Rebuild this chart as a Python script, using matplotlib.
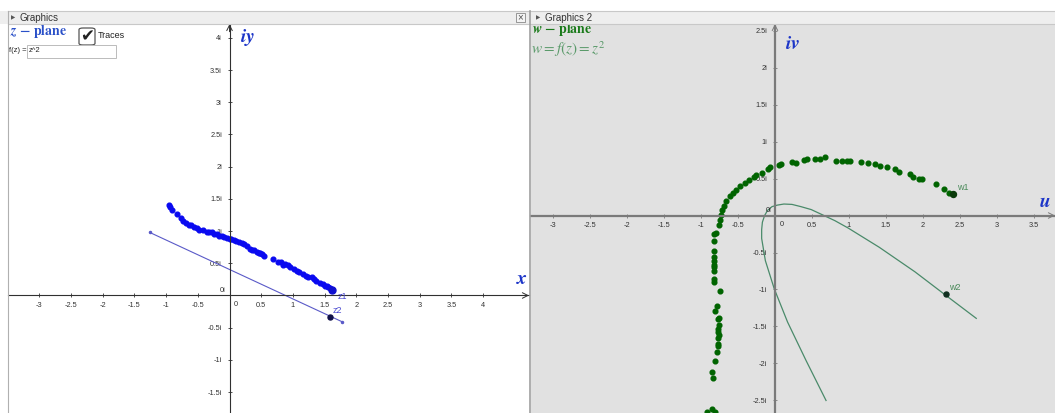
import matplotlib
matplotlib.use("Agg")
import matplotlib.pyplot as plt
from matplotlib.patches import Rectangle, FancyBboxPatch

W, H = 1055, 413
plt.rcParams['mathtext.fontset'] = 'stix'
plt.rcParams['font.family'] = ['Liberation Sans', 'DejaVu Sans']

# ---- data ----
# z-plane trace of z1 (blue dots)
z_trace_x = [-0.95, -0.94, -0.90, -0.83, -0.77, -0.73, -0.68, -0.64, -0.61, -0.56, -0.52,
             -0.48, -0.42, -0.36, -0.32, -0.28, -0.24, -0.20, -0.16, -0.12, -0.08, -0.04,
             0.00, 0.03, 0.07, 0.11, 0.15, 0.19, 0.23, 0.28, 0.32, 0.36, 0.38, 0.43, 0.46,
             0.48, 0.51, 0.54, 0.68, 0.77, 0.82, 0.85, 0.88, 0.93, 0.95, 1.01, 1.06, 1.10,
             1.16, 1.20, 1.24, 1.30, 1.33, 1.37, 1.43, 1.47, 1.51, 1.53, 1.56, 1.59]
z_trace_y = [1.40, 1.37, 1.33, 1.27, 1.21, 1.16, 1.12, 1.10, 1.09, 1.07, 1.05,
             1.01, 1.02, 0.99, 0.99, 0.98, 0.96, 0.95, 0.93, 0.92, 0.91, 0.90,
             0.88, 0.87, 0.86, 0.85, 0.83, 0.82, 0.80, 0.77, 0.72, 0.71, 0.70, 0.67, 0.66,
             0.66, 0.64, 0.62, 0.57, 0.52, 0.52, 0.47, 0.49, 0.47, 0.44, 0.41, 0.38, 0.36,
             0.33, 0.31, 0.29, 0.28, 0.25, 0.23, 0.20, 0.18, 0.15, 0.15, 0.13, 0.11]
z1 = (1.62, 0.09)
z2 = (1.58, -0.33)
seg_x = [-1.26, 1.78]
seg_y = [0.98, -0.41]

# w-plane trace of w1 (green dots)
w_trace_u = [2.35, 2.29, 2.17, 1.99, 1.94, 1.87, 1.82, 1.68, 1.62, 1.51, 1.42, 1.35, 1.26,
             1.16, 1.02, 0.97, 0.90, 0.83, 0.68, 0.61, 0.54, 0.43, 0.39, 0.28, 0.23, 0.08,
             0.05, -0.07, -0.10, -0.17, -0.25, -0.29, -0.35, -0.41, -0.47, -0.53, -0.57,
             -0.61, -0.66, -0.69, -0.72, -0.73, -0.74, -0.76, -0.80, -0.82, -0.82, -0.83,
             -0.82, -0.83, -0.82, -0.82, -0.83, -0.82, -0.82, -0.74, -0.79, -0.81, -0.76,
             -0.77, -0.75, -0.77, -0.77, -0.76, -0.77, -0.77, -0.77, -0.79, -0.81, -0.85,
             -0.84, -0.85, -0.92, -0.81]
w_trace_v = [0.31, 0.36, 0.42, 0.50, 0.50, 0.52, 0.56, 0.59, 0.63, 0.66, 0.67, 0.70, 0.71,
             0.72, 0.73, 0.74, 0.74, 0.74, 0.79, 0.77, 0.76, 0.76, 0.75, 0.71, 0.72, 0.70,
             0.68, 0.65, 0.63, 0.58, 0.55, 0.52, 0.48, 0.44, 0.40, 0.35, 0.31,
             0.26, 0.20, 0.13, 0.07, 0.01, -0.06, -0.13, -0.23, -0.25, -0.34, -0.48,
             -0.56, -0.62, -0.67, -0.70, -0.75, -0.86, -0.90, -1.02, -1.22, -1.29, -1.38,
             -1.40, -1.48, -1.53, -1.57, -1.61, -1.65, -1.73, -1.76, -1.85, -1.96, -2.12,
             -2.19, -2.61, -2.65, -2.65]
w1 = (2.41, 0.29)
w2 = (2.31, -1.06)
# image of the segment in the w-plane
curve_u = [0.69, 0.42, 0.17, -0.01, -0.13, -0.18, -0.18, -0.17, -0.14, -0.10, -0.04,
           0.03, 0.12, 0.23, 0.35, 0.49, 0.64, 0.81, 0.99, 1.41, 1.89, 2.31, 2.72]
curve_v = [-2.50, -1.96, -1.44, -0.99, -0.61, -0.31, -0.19, -0.09, 0.00, 0.07, 0.12,
           0.14, 0.155, 0.15, 0.12, 0.08, 0.01, -0.07, -0.17, -0.43, -0.76, -1.08, -1.39]

x_ticks = [-3, -2.5, -2, -1.5, -1, -0.5, 0.5, 1, 1.5, 2, 2.5, 3, 3.5, 4]
y_ticks = [-1.5, -1, -0.5, 0.5, 1, 1.5, 2, 2.5, 3, 3.5, 4]
u_ticks = [-3, -2.5, -2, -1.5, -1, -0.5, 0.5, 1, 1.5, 2, 2.5, 3, 3.5]
v_ticks = [-2.5, -2, -1.5, -1, -0.5, 0.5, 1, 1.5, 2, 2.5]


def fmt(v):
    return ('%g' % v)


def fx(px):
    return px / W


def fy(py):
    return 1 - py / H


fig = plt.figure(figsize=(W / 100, H / 100), dpi=100)
fig.patch.set_facecolor('white')

axis_blue = '#1c35c8'


def setup(ax, xt, yt, spine_col, lw, xlim, ylim):
    ax.set_xlim(*xlim)
    ax.set_ylim(*ylim)
    ax.spines[['top', 'right']].set_visible(False)
    ax.spines['left'].set_position(('data', 0))
    ax.spines['bottom'].set_position(('data', 0))
    for s in ['left', 'bottom']:
        ax.spines[s].set_color(spine_col)
        ax.spines[s].set_linewidth(lw)
    ax.set_xticks(xt, [fmt(v) for v in xt])
    ax.set_yticks(yt, [fmt(v) + 'i' for v in yt])
    ax.tick_params(direction='inout', length=3, width=0.6, labelsize=5.3,
                   color=spine_col, labelcolor='#333333', pad=3)
    ax.tick_params(axis='y', pad=4)
    ax.annotate('', xy=(xlim[1], 0), xytext=(xlim[1] - 0.12, 0),
                arrowprops=dict(arrowstyle='->', lw=0.7, color=spine_col,
                                shrinkA=0, shrinkB=0), annotation_clip=False)
    ax.annotate('', xy=(0, ylim[1]), xytext=(0, ylim[1] - 0.12),
                arrowprops=dict(arrowstyle='->', lw=0.7, color=spine_col,
                                shrinkA=0, shrinkB=0), annotation_clip=False)


# ---------- left panel: z-plane ----------
axL = fig.add_axes([fx(8), 0, (529 - 8) / W, (413 - 24) / H])
axL.set_facecolor('white')
setup(axL, x_ticks, y_ticks, '#303030', 0.8, (-3.494, 4.724), (-1.825, 4.216))
axL.text(0.06, -0.08, '0', fontsize=5.3, color='#333333', va='top', ha='left')
axL.text(-0.06, 0.03, '0i', fontsize=5.3, color='#333333', va='bottom', ha='right')

axL.plot(seg_x, seg_y, color='#5a5ac8', lw=0.8)
axL.plot(seg_x, seg_y, ls='none', marker='o', ms=1.5, color='#5a5ac8')
axL.plot(z_trace_x, z_trace_y, ls='none', marker='o', ms=3.4, color='#0a0af0')
axL.plot(*z1, marker='o', ms=5, color='#1010d0')
axL.plot(*z2, marker='o', ms=3.6, color='#10104a')
axL.text(z1[0] + 0.08, z1[1] - 0.15, 'z1', fontsize=6.5, color='#4a4ad0')
axL.text(z2[0] + 0.04, z2[1] + 0.06, 'z2', fontsize=6.5, color='#4a4ad0')
axL.text(4.52, 0.18, r'$\mathbfit{x}$', fontsize=14, color=axis_blue)
axL.text(0.17, 3.93, r'$\mathbfit{iy}$', fontsize=14, color=axis_blue)

# ---------- right panel: w-plane ----------
axR = fig.add_axes([fx(531), 0, (1055 - 531) / W, (413 - 24) / H])
axR.set_facecolor('#e1e1e1')
setup(axR, u_ticks, v_ticks, '#7a7a7a', 1.6, (-3.297, 3.784), (-2.669, 2.588))
axR.text(0.06, -0.08, '0', fontsize=5.3, color='#333333', va='top', ha='left')
axR.text(-0.05, 0.02, '0i', fontsize=5.3, color='#333333', va='bottom', ha='right')

axR.plot(curve_u, curve_v, color='#4a8a6a', lw=0.9)
axR.plot(w_trace_u, w_trace_v, ls='none', marker='o', ms=3.4, color='#006400')
axR.plot(*w1, marker='o', ms=4.3, color='#0a3a0a')
axR.plot(*w2, marker='o', ms=3.6, color='#103020')
axR.text(w1[0] + 0.05, w1[1] + 0.05, 'w1', fontsize=6.5, color='#4a8a5a')
axR.text(w2[0] + 0.04, w2[1] + 0.05, 'w2', fontsize=6.5, color='#4a8a5a')
axR.text(3.57, 0.12, r'$\mathbfit{u}$', fontsize=14, color=axis_blue)
axR.text(0.14, 2.25, r'$\mathbfit{iv}$', fontsize=14, color=axis_blue)

# ---------- window chrome ----------
tf = fig.transFigure
fig.patches.append(Rectangle((0, fy(24)), 1, (24 - 11) / H, transform=tf,
                             facecolor='#eeeeee', edgecolor='none', zorder=5))
for yy in (11, 24):
    fig.add_artist(plt.Line2D([fx(8), 1], [fy(yy), fy(yy)], transform=tf,
                              color='#c8c8c8', lw=0.8, zorder=6))
fig.add_artist(plt.Line2D([fx(8), fx(8)], [0, fy(11)], transform=tf,
                          color='#b0b0b0', lw=0.8, zorder=6))
fig.add_artist(plt.Line2D([fx(530), fx(530)], [0, fy(11)], transform=tf,
                          color='#a0a0a0', lw=1.2, zorder=6))
fig.text(fx(11), fy(18), '\u25b6', fontsize=4, color='#555555', va='center', zorder=7)
fig.text(fx(20), fy(18), 'Graphics', fontsize=7, color='#333333', va='center', zorder=7)
fig.text(fx(536), fy(18), '\u25b6', fontsize=4, color='#555555', va='center', zorder=7)
fig.text(fx(545), fy(18), 'Graphics 2', fontsize=7, color='#333333', va='center', zorder=7)
fig.patches.append(Rectangle((fx(516), fy(22)), 9 / W, 9 / H, transform=tf,
                             facecolor='#f4f4f4', edgecolor='#888888', lw=0.6, zorder=7))
fig.text(fx(520.5), fy(17.5), '\u00d7', fontsize=7, color='#555555',
         ha='center', va='center', zorder=8)

# titles
fig.text(fx(10), fy(31), r'$\mathbfit{z}\ \mathbf{-\ plane}$', fontsize=10,
         color='#2a50c8', va='center')
fig.text(fx(532), fy(30), r'$\mathbfit{w}\ \mathbf{-\ plane}$', fontsize=10,
         color='#1a7a1a', va='center')
fig.text(fx(531), fy(49), r'$w = f(z) = z^2$', fontsize=11,
         color='#5a9a6a', va='center')

# checkbox
fig.patches.append(FancyBboxPatch((fx(79), fy(45)), 16 / W, 17 / H, transform=tf,
                                  boxstyle='round,pad=0,rounding_size=0.004',
                                  facecolor='white', edgecolor='#555555', lw=0.9))
fig.text(fx(87), fy(36.5), '\u2714', fontsize=12, color='#222222',
         ha='center', va='center', family='DejaVu Sans')
fig.text(fx(98), fy(35), 'Traces', fontsize=6.5, color='#222222', va='center')

# input box
fig.text(fx(9), fy(51), 'f(z) =', fontsize=5.5, color='#222222', va='center')
fig.patches.append(Rectangle((fx(27), fy(58)), 89 / W, 13 / H, transform=tf,
                             facecolor='white', edgecolor='#bbbbbb', lw=0.7))
fig.text(fx(29), fy(51), 'z^2', fontsize=5.5, color='#222222', va='center')

fig.savefig('out.png', dpi=100)
